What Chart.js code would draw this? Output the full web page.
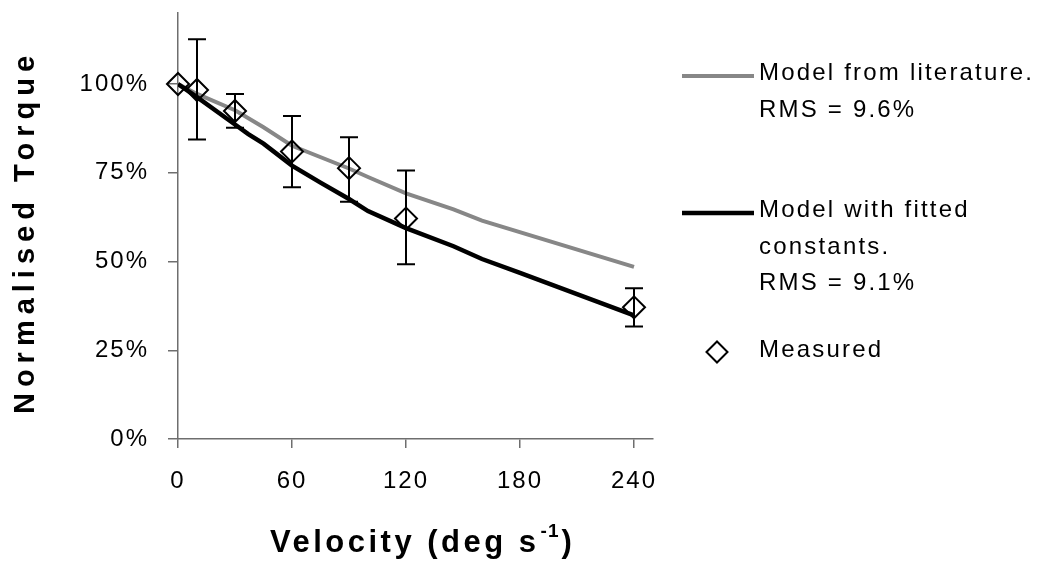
<!DOCTYPE html>
<html>
<head>
<meta charset="utf-8">
<script src="https://cdn.jsdelivr.net/npm/chart.js@4.4.0/dist/chart.umd.min.js"></script>
<style>
  body { margin: 0; background: #fff; }
  #wrap { width: 1042px; height: 563px; }
</style>
</head>
<body>
<div id="wrap"><canvas id="myChart" width="1042" height="563"></canvas></div>
<script>
// model curves (velocity deg/s, torque %)
const litVel    = [0, 10, 30, 45, 60, 90, 100, 120, 145, 160, 240];
const litTorque = [100, 97.2, 92.6, 87.8, 82.6, 76.2, 73.8, 69.2, 64.7, 61.5, 48.5];

const fitVel    = [0, 10, 30, 37, 45, 60, 75, 90, 100, 120, 145, 160, 180, 240];
const fitTorque = [100, 96.3, 88.6, 85.9, 83.2, 77.0, 72.2, 67.6, 64.2, 59.4, 54.3, 50.7, 46.8, 34.8];

// measured points with error bars
const measVel    = [0, 10, 30, 60, 90, 120, 240];
const measTorque = [100, 98.3, 92.4, 81.0, 76.3, 62.1, 37.1];
const measHigh   = [null, 112.6, 97.2, 91.0, 85.0, 75.6, 42.5];
const measLow    = [null, 84.4, 87.7, 70.9, 66.8, 49.2, 31.7];

const xTicks = [0, 60, 120, 180, 240];
const yTicks = [0, 25, 50, 75, 100];

const legendLabels = [
  ["Model from literature.", "RMS = 9.6%"],
  ["Model with fitted", "constants.", "RMS = 9.1%"],
  ["Measured"]
];

function toPoints(xs, ys) {
  return xs.map((x, i) => ({x: x, y: ys[i]}));
}

function noPad(s) {
  s.paddingTop = 0; s.paddingBottom = 0;
  s.paddingLeft = 0; s.paddingRight = 0;
}

const ctx = document.getElementById('myChart');

const spacingPlugin = {
  id: 'spacing',
  beforeDraw(chart) {
    chart.ctx.letterSpacing = '2px';
  }
};

const errorBars = {
  id: 'errorBars',
  afterDatasetsDraw(chart) {
    const c = chart.ctx;
    const xs = chart.scales.x, ys = chart.scales.y;
    c.save();
    c.strokeStyle = '#000';
    c.lineWidth = 2;
    for (let i = 0; i < measVel.length; i++) {
      if (measHigh[i] == null) continue;
      const px = xs.getPixelForValue(measVel[i]);
      const top = ys.getPixelForValue(measHigh[i]);
      const bot = ys.getPixelForValue(measLow[i]);
      c.beginPath();
      c.moveTo(px, top); c.lineTo(px, bot);
      c.moveTo(px - 9, top); c.lineTo(px + 9, top);
      c.moveTo(px - 9, bot); c.lineTo(px + 9, bot);
      c.stroke();
    }
    c.restore();
  }
};

const extras = {
  id: 'extras',
  afterDraw(chart) {
    const c = chart.ctx;
    c.save();
    c.fillStyle = '#000';

    // legend
    const ds = chart.data.datasets;
    const rows = [
      {ds: ds[2], lineY: 76, base: 80},
      {ds: ds[1], lineY: 213, base: 217},
      {ds: ds[0], lineY: 352, base: 357}
    ];
    c.font = '24px "Liberation Sans", Arial, sans-serif';
    c.letterSpacing = '2.2px';
    c.textAlign = 'left';
    c.textBaseline = 'alphabetic';
    rows.forEach((r, k) => {
      if (r.ds.showLine === false) {
        c.strokeStyle = r.ds.borderColor;
        c.fillStyle = 'rgba(0,0,0,0)';
        c.lineWidth = r.ds.borderWidth;
        Chart.helpers.drawPoint(c, {pointStyle: 'rectRot', radius: 10.5, rotation: 0, borderWidth: r.ds.borderWidth}, 717, r.lineY);
      } else {
        c.strokeStyle = r.ds.borderColor;
        c.lineWidth = r.ds.borderWidth;
        c.beginPath();
        c.moveTo(682, r.lineY); c.lineTo(754, r.lineY);
        c.stroke();
      }
      c.fillStyle = '#000';
      legendLabels[k].forEach((t, j) => c.fillText(t, 759, r.base + j * 36.5));
    });

    // y title
    c.save();
    c.font = 'bold 29px "Liberation Sans", Arial, sans-serif';
    c.letterSpacing = '6px';
    c.translate(34, 232);
    c.rotate(-Math.PI / 2);
    c.textAlign = 'center';
    c.fillText('Normalised Torque', 0, 0);
    c.restore();

    // x title with superscript
    c.font = 'bold 31px "Liberation Sans", Arial, sans-serif';
    c.letterSpacing = '3.5px';
    c.textAlign = 'left';
    let x0 = 270;
    const t1 = 'Velocity (deg s';
    c.fillText(t1, x0, 552);
    x0 += c.measureText(t1).width + 1;
    c.font = 'bold 19px "Liberation Sans", Arial, sans-serif';
    c.letterSpacing = '1px';
    c.fillText('-1', x0, 537);
    x0 += c.measureText('-1').width + 2;
    c.font = 'bold 31px "Liberation Sans", Arial, sans-serif';
    c.fillText(')', x0, 552);

    c.restore();
  }
};

const axisColor = '#6e6e6e';

myChart = new Chart(ctx, {
  type: 'line',
  data: {
    datasets: [
      {
        label: 'Measured',
        data: toPoints(measVel, measTorque),
        showLine: false,
        clip: false,
        pointStyle: 'rectRot',
        pointRadius: 11,
        pointBorderWidth: 2,
        borderWidth: 2,
        borderColor: '#000',
        backgroundColor: 'rgba(0,0,0,0)',
        pointBackgroundColor: 'rgba(0,0,0,0)',
        order: 0
      }, {
        label: 'Model with fitted constants',
        data: toPoints(fitVel, fitTorque),
        borderColor: '#000',
        borderWidth: 4.5,
        pointRadius: 0,
        fill: false,
        tension: 0,
        order: 1
      }, {
        label: 'Model from literature',
        data: toPoints(litVel, litTorque),
        borderColor: '#878787',
        borderWidth: 4,
        pointRadius: 0,
        fill: false,
        tension: 0,
        order: 2
      }
    ]
  },
  options: {
    responsive: false,
    animation: false,
    layout: { padding: { left: 0, top: 12, right: 389, bottom: 0 } },
    scales: {
      x: {
        type: 'linear',
        min: 0,
        max: 250,
        afterBuildTicks: s => { s.ticks = xTicks.map(v => ({value: v})); },
        afterFit: s => { s.height = 124; noPad(s); },
        border: { color: axisColor, width: 1.5 },
        grid: { drawOnChartArea: false, tickLength: 9, color: axisColor, lineWidth: 1.5 },
        ticks: {
          color: '#000',
          padding: 19,
          maxRotation: 0,
          font: { family: '"Liberation Sans", Arial, sans-serif', size: 24 }
        }
      },
      y: {
        min: 0,
        max: 120,
        afterBuildTicks: s => { s.ticks = yTicks.map(v => ({value: v})); },
        afterFit: s => { s.width = 178; noPad(s); },
        border: { color: axisColor, width: 1.5 },
        grid: { drawOnChartArea: false, tickLength: 10, color: axisColor, lineWidth: 1.5 },
        ticks: {
          color: '#000',
          padding: 19,
          callback: v => v + '%',
          font: { family: '"Liberation Sans", Arial, sans-serif', size: 24 }
        }
      }
    },
    plugins: {
      legend: { display: false },
      tooltip: { enabled: false }
    }
  },
  plugins: [spacingPlugin, errorBars, extras]
});
</script>
</body>
</html>
